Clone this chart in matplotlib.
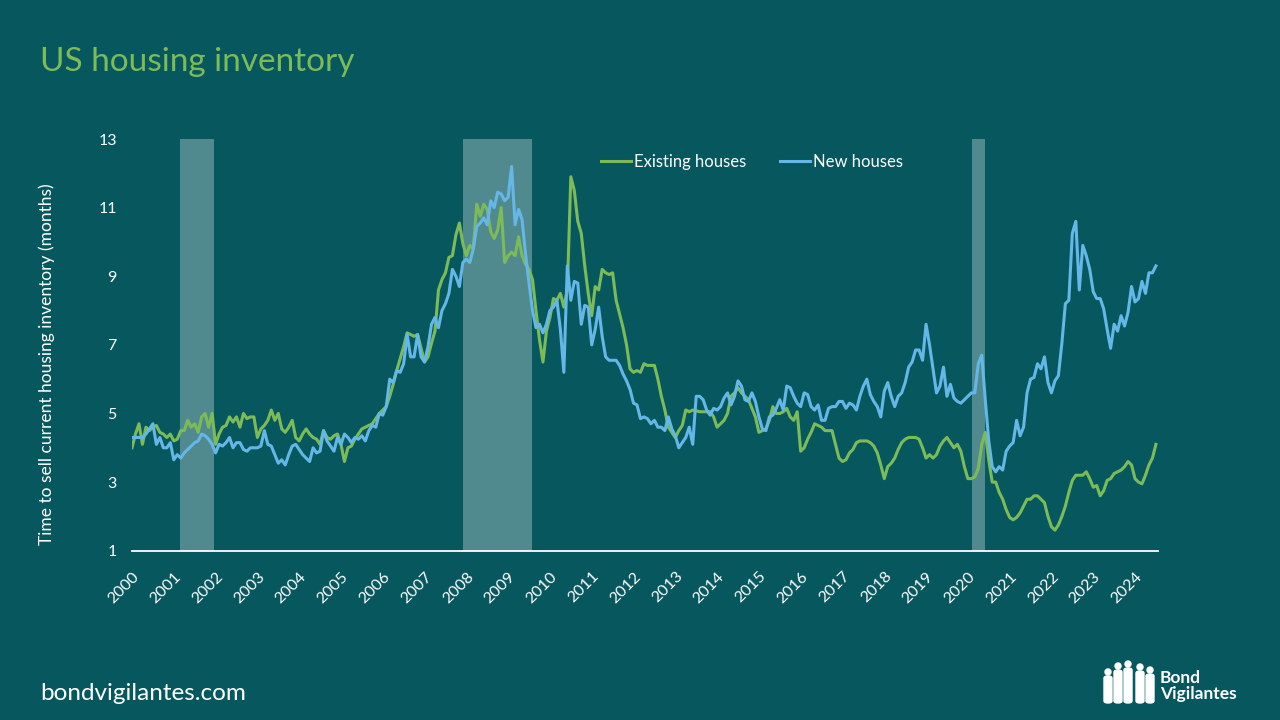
import matplotlib
matplotlib.use("Agg")
import matplotlib.pyplot as plt
import matplotlib.transforms as mtransforms
from matplotlib.patches import Ellipse, FancyBboxPatch
import numpy as np

plt.rcParams['font.family'] = ['Lato', 'DejaVu Sans']

# ---------------- data (monthly, Jan 2000 - Jul 2024) ----------------
years = list(range(2000, 2025))
year_labels = [str(y) for y in years]

existing_houses = [
    4.0, 4.4, 4.7, 4.1, 4.6, 4.5, 4.6, 4.65, 4.45, 4.4, 4.3, 4.4,
    4.2, 4.25, 4.5, 4.5, 4.8, 4.6, 4.7, 4.45, 4.9, 5.0, 4.6, 5.0,
    4.1, 4.4, 4.6, 4.65, 4.9, 4.75, 4.9, 4.6, 5.0, 4.85, 4.9, 4.9,
    4.3, 4.55, 4.65, 4.8, 5.1, 4.8, 5.0, 4.55, 4.45, 4.6, 4.8, 4.3,
    4.2, 4.4, 4.55, 4.4, 4.3, 4.25, 4.1, 4.5, 4.3, 4.25, 4.35, 4.4,
    4.1, 3.6, 4.0, 4.05, 4.25, 4.4, 4.55, 4.6, 4.65, 4.7, 4.85, 5.0,
    5.1, 5.2, 5.5, 5.85, 6.25, 6.6, 6.95, 7.35, 7.3, 7.25, 7.3, 6.9,
    6.5, 6.65, 7.05, 7.4, 8.6, 8.9, 9.1, 9.55, 9.6, 10.2, 10.55, 9.95,
    9.6, 9.9, 9.8, 11.1, 10.75, 11.1, 10.95, 10.3, 10.1, 10.35, 11.0, 9.4,
    9.6, 9.7, 9.6, 10.15, 9.6, 9.35, 9.2, 8.9, 8.0, 7.15, 6.5, 7.4,
    7.8, 8.35, 8.3, 8.5, 8.1, 8.6, 11.9, 11.5, 10.6, 10.25, 9.3, 8.5,
    7.85, 8.7, 8.6, 9.2, 9.1, 9.05, 9.1, 8.3, 7.9, 7.5, 7.0, 6.3,
    6.2, 6.25, 6.2, 6.45, 6.4, 6.4, 6.4, 6.0, 5.5, 5.1, 4.6, 4.45,
    4.3, 4.5, 4.65, 5.1, 5.05, 5.1, 5.08, 5.05, 5.05, 5.05, 5.05, 4.9,
    4.6, 4.7, 4.8, 5.0, 5.5, 5.6, 5.75, 5.6, 5.5, 5.4, 5.15, 4.9,
    4.45, 4.5, 4.55, 4.8, 5.2, 5.0, 5.0, 5.05, 5.15, 4.9, 4.8, 5.05,
    3.9, 4.0, 4.25, 4.45, 4.7, 4.65, 4.6, 4.5, 4.5, 4.5, 4.1, 3.7,
    3.6, 3.65, 3.85, 3.95, 4.15, 4.2, 4.2, 4.2, 4.15, 4.05, 3.85, 3.5,
    3.1, 3.45, 3.55, 3.7, 3.95, 4.15, 4.25, 4.3, 4.3, 4.3, 4.25, 4.0,
    3.7, 3.8, 3.7, 3.8, 4.05, 4.2, 4.3, 4.15, 4.0, 4.1, 3.9, 3.45,
    3.1, 3.1, 3.15, 3.4, 4.1, 4.45, 3.65, 3.0, 3.0, 2.7, 2.5, 2.2,
    1.97, 1.9, 1.97, 2.1, 2.3, 2.5, 2.5, 2.6, 2.6, 2.5, 2.4, 2.0,
    1.7, 1.6, 1.75, 2.0, 2.3, 2.7, 3.05, 3.2, 3.2, 3.2, 3.3, 3.1,
    2.85, 2.9, 2.6, 2.75, 3.05, 3.1, 3.25, 3.3, 3.35, 3.45, 3.6, 3.5,
    3.1, 3.0, 2.95, 3.2, 3.5, 3.7, 4.1,
]

new_houses = [
    4.3, 4.3, 4.3, 4.3, 4.4, 4.55, 4.7, 4.1, 4.3, 4.0, 4.0, 4.15,
    3.65, 3.8, 3.7, 3.85, 3.95, 4.05, 4.15, 4.2, 4.4, 4.35, 4.25, 4.1,
    3.85, 4.1, 4.05, 4.15, 4.3, 4.0, 4.15, 4.15, 3.95, 3.9, 4.0, 4.0,
    4.0, 4.05, 4.5, 4.1, 4.05, 3.8, 3.55, 3.65, 3.5, 3.8, 4.05, 4.1,
    3.95, 3.8, 3.7, 3.6, 4.0, 3.85, 3.9, 4.5, 4.2, 4.05, 3.9, 4.3,
    4.1, 4.4, 4.3, 4.15, 4.3, 4.25, 4.35, 4.2, 4.5, 4.65, 4.6, 5.0,
    4.95, 5.2, 6.0, 5.9, 6.25, 6.2, 6.45, 7.3, 6.65, 6.65, 7.3, 6.65,
    6.5, 6.95, 7.6, 7.8, 7.5, 8.0, 8.2, 8.5, 9.2, 9.0, 8.7, 9.4,
    9.5, 9.4, 9.8, 10.45, 10.55, 10.7, 10.5, 11.2, 11.0, 11.45, 11.4, 11.2,
    11.3, 12.2, 10.5, 10.95, 10.65, 9.65, 8.8, 8.0, 7.5, 7.6, 7.35, 7.6,
    8.0, 8.1, 8.3, 7.45, 6.2, 9.3, 8.3, 8.85, 8.8, 7.6, 8.15, 8.1,
    7.0, 7.45, 8.1, 7.25, 6.65, 6.55, 6.55, 6.55, 6.4, 6.15, 5.95, 5.7,
    5.3, 5.25, 4.85, 4.9, 4.85, 4.7, 4.8, 4.6, 4.6, 4.5, 4.9, 4.55,
    4.35, 4.0, 4.15, 4.3, 4.6, 4.1, 5.5, 5.5, 5.4, 5.1, 4.95, 5.15,
    5.1, 5.2, 5.45, 5.6, 5.25, 5.5, 5.95, 5.8, 5.4, 5.35, 5.6, 5.35,
    4.9, 4.55, 4.5, 4.9, 4.95, 5.15, 5.4, 5.1, 5.8, 5.75, 5.5, 5.3,
    5.2, 5.6, 5.55, 5.2, 5.1, 5.25, 4.8, 4.8, 5.15, 5.2, 5.2, 5.35,
    5.35, 5.15, 5.3, 5.25, 5.1, 5.5, 5.8, 6.0, 5.55, 5.35, 5.2, 4.9,
    5.65, 5.9, 5.5, 5.2, 5.5, 5.6, 5.9, 6.35, 6.5, 6.85, 6.85, 6.55,
    7.6, 7.0, 6.3, 5.6, 5.8, 6.35, 5.5, 5.85, 5.45, 5.35, 5.3, 5.4,
    5.5, 5.6, 5.6, 6.45, 6.7, 5.4, 4.2, 3.45, 3.3, 3.45, 3.35, 3.9,
    4.05, 4.15, 4.8, 4.35, 4.6, 5.6, 6.0, 6.05, 6.45, 6.3, 6.65, 5.9,
    5.6, 5.95, 6.1, 7.05, 8.2, 8.3, 10.25, 10.6, 8.6, 9.9, 9.6, 9.2,
    8.55, 8.35, 8.35, 8.05, 7.45, 6.9, 7.6, 7.4, 7.85, 7.55, 7.95, 8.7,
    8.25, 8.35, 8.85, 8.5, 9.1, 9.1, 9.3,
]

# recessions (start, end) as fractional years
recessions = [(2001.15, 2001.96), (2007.92, 2009.56), (2020.1, 2020.4)]

y_ticks = [1, 3, 5, 7, 9, 11, 13]

# ---------------- styling ----------------
BG = '#06585E'
GREEN = '#7CBB57'
BLUE = '#64B7E6'
WHITE = '#FFFFFF'

fig = plt.figure(figsize=(12.8, 7.2), dpi=100, facecolor=BG)
ax = fig.add_axes([132 / 1280, 1 - 550.7 / 720, (1158 - 132) / 1280, (550.7 - 139) / 720])
ax.set_facecolor(BG)

x = np.arange(len(existing_houses)) / 12.0 + 2000

for a, b in recessions:
    ax.axvspan(a, b, color=WHITE, alpha=0.3, lw=0, zorder=1)

ax.plot(x, existing_houses, color=GREEN, lw=2.2, label='Existing houses', zorder=3)
ax.plot(x, new_houses, color=BLUE, lw=2.2, label='New houses', zorder=3)

ax.set_xlim(2000, 2000 + 294.6 / 12)
ax.set_ylim(1, 13)
ax.set_yticks(y_ticks)
ax.set_xticks(years)
ax.set_xticklabels(year_labels, rotation=45, ha='right', va='center', rotation_mode='anchor')

for s in ['top', 'right', 'left']:
    ax.spines[s].set_visible(False)
ax.spines['bottom'].set_color(WHITE)
ax.spines['bottom'].set_linewidth(1.3)
ax.spines['bottom'].set_zorder(4)

ax.tick_params(axis='y', length=0, colors=WHITE, labelsize=11.5, pad=11)
ax.tick_params(axis='x', length=0, colors=WHITE, labelsize=11.5, pad=17)
offset = mtransforms.ScaledTranslation(5 / 100, 0, fig.dpi_scale_trans)
for lbl in ax.get_xticklabels():
    lbl.set_transform(lbl.get_transform() + offset)

leg = ax.legend(loc='center left', bbox_to_anchor=((601 - 132) / 1026, (550.7 - 162) / 411.7),
                ncol=2, frameon=False, fontsize=12, handlelength=1.8, handletextpad=0.2,
                columnspacing=2.0, borderaxespad=0, borderpad=0)
for t in leg.get_texts():
    t.set_color(WHITE)

fig.text(47 / 1280, 1 - 364 / 720, 'Time to sell current housing inventory (months)',
         rotation=90, ha='center', va='center', color=WHITE, fontsize=12.5)

fig.text(40 / 1280, 1 - 62 / 720, 'US housing inventory', color=GREEN, fontsize=24,
         ha='left', va='center')

fig.text(40 / 1280, 1 - 694 / 720, 'bondvigilantes.com', color=WHITE, fontsize=17.5,
         ha='left', va='center')

# logo: simple silhouettes + text
fig.text(1160 / 1280, 1 - 686 / 720, 'Bond\nVigilantes', color=WHITE, fontsize=12.5,
         ha='left', va='center', fontweight='bold', linespacing=0.95)
people = [(1108, 672, 9), (1118, 666, 11), (1128, 664, 12), (1140, 667, 11), (1150, 670, 9)]
for px, py, h in people:
    fig.patches.append(Ellipse((px / 1280, 1 - py / 720), 6 / 1280, 6 / 720,
                               transform=fig.transFigure, color=WHITE, zorder=5))
    fig.patches.append(FancyBboxPatch(((px - 4) / 1280, 1 - 703 / 720), 8 / 1280,
                                      (703 - py - 4) / 720,
                                      boxstyle='round,pad=0,rounding_size=0.003',
                                      transform=fig.transFigure, color=WHITE, zorder=5))

fig.savefig('out.png', dpi=100, facecolor=BG)
